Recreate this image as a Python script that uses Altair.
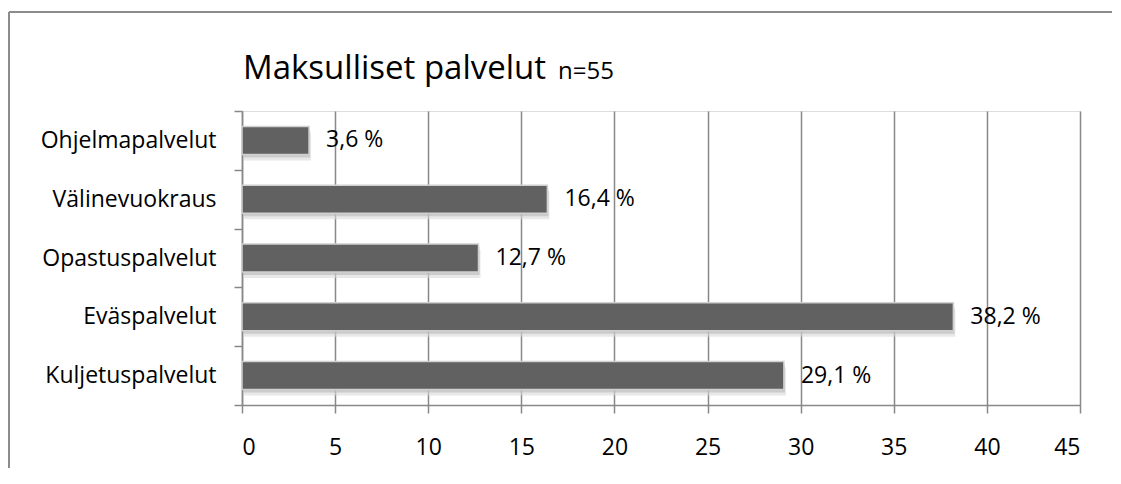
import altair as alt
import pandas as pd

categories = ["Ohjelmapalvelut", "Välinevuokraus", "Opastuspalvelut", "Eväspalvelut", "Kuljetuspalvelut"]
values = [3.6, 16.4, 12.7, 38.2, 29.1]
title_main = "Maksulliset palvelut"
title_n = "n=55"
x_ticks = [0, 5, 10, 15, 20, 25, 30, 35, 40, 45]

df = pd.DataFrame({
    "cat": categories,
    "val": values,
    "lab": [f"{v:.1f}".replace(".", ",") + " %" for v in values],
})

FONT = "Open Sans"
GRID = "#888888"
FS = 23

x_enc = alt.X("val:Q", scale=alt.Scale(domain=[0, 45], nice=False),
              axis=alt.Axis(values=x_ticks, title=None, grid=True, gridColor=GRID, gridWidth=1.5,
                            domainColor=GRID, domainWidth=1.5, tickColor=GRID, tickWidth=1.5,
                            tickSize=8, labelPadding=23, labelFontSize=FS, labelFont=FONT,
                            labelColor="#000"))
y_enc = alt.Y("cat:N", sort=categories, scale=alt.Scale(paddingInner=0, paddingOuter=0),
              axis=alt.Axis(title=None, tickBand="extent", domainColor=GRID, domainWidth=1.5,
                            tickColor=GRID, tickWidth=1.5, tickSize=8, labelPadding=18,
                            labelFontSize=FS, labelFont=FONT, labelColor="#000"))

base = alt.Chart(df)

shadow2 = base.mark_bar(size=28, yOffset=6, xOffset=2, color="#d8d8d8", opacity=0.6).encode(x=x_enc, y=y_enc)
shadow1 = base.mark_bar(size=28, yOffset=3, xOffset=1, color="#b8b8b8", opacity=0.6).encode(x=x_enc, y=y_enc)
bars = base.mark_bar(size=28, color="#616161", stroke="#d0d0d0", strokeWidth=1.5).encode(x=x_enc, y=y_enc)
labels = base.mark_text(align="left", baseline="middle", dx=17, fontSize=FS, font=FONT, color="#000").encode(
    x="val:Q", y=alt.Y("cat:N", sort=categories), text="lab:N")

t1 = alt.Chart(pd.DataFrame({"t": [title_main]})).mark_text(
    align="left", baseline="alphabetic", fontSize=33, font=FONT, color="#000").encode(
    x=alt.value(1), y=alt.value(-32), text="t:N")
t2 = alt.Chart(pd.DataFrame({"t": [title_n]})).mark_text(
    align="left", baseline="alphabetic", fontSize=24, font=FONT, color="#000").encode(
    x=alt.value(316), y=alt.value(-32), text="t:N")

frame_left = alt.Chart(pd.DataFrame({"a": [0]})).mark_rule(color="#8c8c8c", strokeWidth=2).encode(
    x=alt.value(-233), y=alt.value(-99), y2=alt.value(357))
frame_top = alt.Chart(pd.DataFrame({"a": [0]})).mark_rule(color="#8c8c8c", strokeWidth=2).encode(
    x=alt.value(-233), x2=alt.value(870), y=alt.value(-99))

chart = alt.layer(shadow2, shadow1, bars, labels, t1, t2, frame_left, frame_top).properties(
    width=838, height=294,
    autosize=alt.AutoSizeParams(type="none"),
    padding={"left": 234, "top": 103, "right": 32, "bottom": 63},
).configure_view(stroke=None).configure(background="white")

chart.save("out.html", embed_options={"renderer": "svg", "actions": False})
